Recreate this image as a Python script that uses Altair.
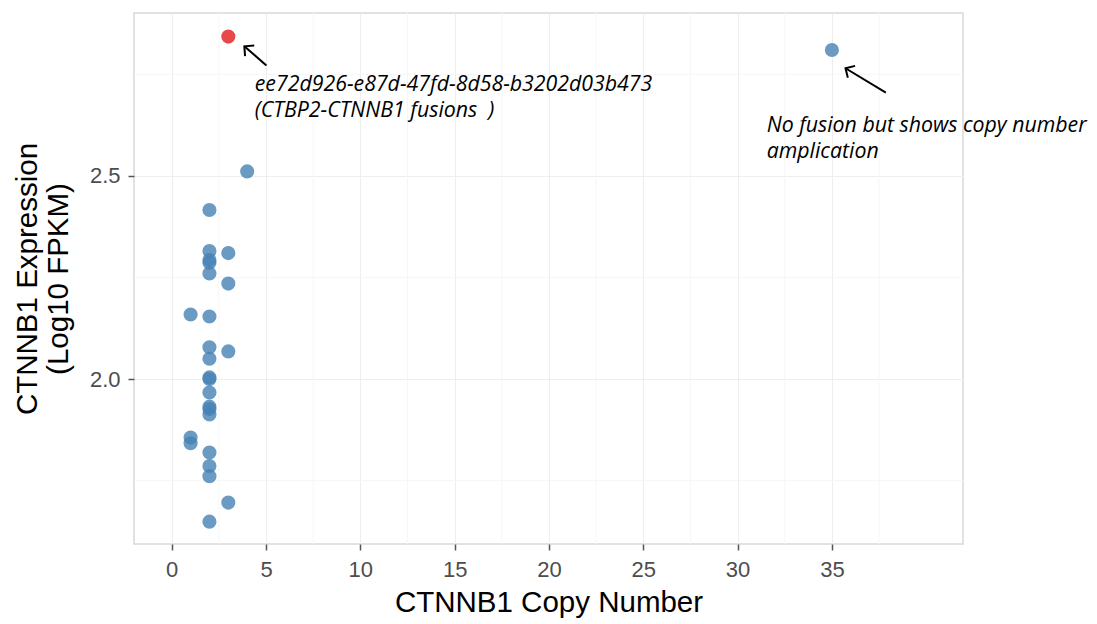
import math
import altair as alt
import pandas as pd

# ---- data ----
copy_number = [2, 2, 2, 2, 2, 2, 2, 2, 2, 2, 2, 2, 2, 2, 2, 2, 2, 2,
               3, 3, 3, 3, 3,
               1, 1, 1,
               4, 35]
expression = [2.416, 2.315, 2.293, 2.286, 2.260, 2.154, 2.078, 2.050, 2.004, 2.000,
              1.967, 1.932, 1.926, 1.913, 1.819, 1.786, 1.761, 1.649,
              2.843, 2.310, 2.235, 2.068, 1.696,
              2.159, 1.856, 1.842,
              2.511, 2.810]
is_fusion = ["no"] * 18 + ["yes", "no", "no", "no", "no"] + ["no"] * 3 + ["no", "no"]

x_ticks = [0, 5, 10, 15, 20, 25, 30, 35]
x_minor = [2.5, 7.5, 12.5, 17.5, 22.5, 27.5, 32.5, 37.5]
y_ticks = [2.0, 2.5]
y_minor = [1.75, 2.25, 2.75]
x_domain = [-2.0, 41.95]
y_domain = [1.594, 2.901]

# annotations (data units)
arrow_tail_x = [5.02, 37.86]
arrow_tail_y = [2.772, 2.705]
arrow_head_x = [3.85, 35.72]
arrow_head_y = [2.819, 2.765]
label_x = [4.40, 31.54]
label_y = [2.710, 2.608]
label_text = ["ee72d926-e87d-47fd-8d58-b3202d03b473\n(CTBP2-CTNNB1 fusions\u00a0\u00a0)",
              "No fusion but shows copy number\namplication"]

W, H = 829, 531
kx = W / (x_domain[1] - x_domain[0])
ky = H / (y_domain[1] - y_domain[0])

pts = pd.DataFrame({"cn": copy_number, "expr": expression, "fusion": is_fusion})
arrows = pd.DataFrame({"x": arrow_tail_x, "y": arrow_tail_y,
                       "x2": arrow_head_x, "y2": arrow_head_y})
arrows["angle"] = [
    (math.degrees(math.atan2(-(y2 - y1) * ky, (x2 - x1) * kx)) + 360) % 360
    for x1, y1, x2, y2 in zip(arrow_tail_x, arrow_tail_y, arrow_head_x, arrow_head_y)
]
labels = pd.DataFrame({"x": label_x, "y": label_y, "t": label_text})
xminor = pd.DataFrame({"v": x_minor})
yminor = pd.DataFrame({"v": y_minor})

xs = alt.Scale(domain=x_domain, nice=False, zero=False)
ys = alt.Scale(domain=y_domain, nice=False, zero=False)

minor_x = alt.Chart(xminor).mark_rule(color="#F6F6F6", strokeWidth=1).encode(
    x=alt.X("v:Q", scale=xs))
minor_y = alt.Chart(yminor).mark_rule(color="#F6F6F6", strokeWidth=1).encode(
    y=alt.Y("v:Q", scale=ys))

points = alt.Chart(pts).mark_circle(size=200, opacity=0.8).encode(
    x=alt.X("cn:Q", scale=xs,
            axis=alt.Axis(values=x_ticks, title="CTNNB1 Copy Number", format="d")),
    y=alt.Y("expr:Q", scale=ys,
            axis=alt.Axis(values=y_ticks, title=["CTNNB1 Expression", "(Log10 FPKM)"],
                          format=".1f")),
    color=alt.Color("fusion:N",
                    scale=alt.Scale(domain=["no", "yes"], range=["#4682B4", "#E41A1C"]),
                    legend=None),
)

shafts = alt.Chart(arrows).mark_rule(color="black", strokeWidth=2).encode(
    x=alt.X("x:Q", scale=xs), y=alt.Y("y:Q", scale=ys), x2="x2:Q", y2="y2:Q")
heads = alt.Chart(arrows).mark_point(
    shape="M -1 -1 L 0 0 L -1 1", filled=False, stroke="black", strokeWidth=2,
    size=196, opacity=1).encode(
    x=alt.X("x2:Q", scale=xs), y=alt.Y("y2:Q", scale=ys), angle=alt.Angle("angle:Q", scale=None))

texts = alt.Chart(labels).mark_text(
    align="left", baseline="alphabetic", font="Open Sans", fontStyle="italic",
    fontWeight=500, fontSize=21.3, lineBreak="\n", lineHeight=26, color="black").encode(
    x=alt.X("x:Q", scale=xs), y=alt.Y("y:Q", scale=ys), text="t:N")

chart = alt.layer(minor_x, minor_y, points, shafts, heads, texts).properties(
    width=W, height=H,
    autosize=alt.AutoSizeParams(type="none"),
    padding={"left": 126, "top": 5, "right": 126, "bottom": 77},
).configure_view(
    stroke="#D9D9D9", strokeWidth=1.5
).configure_axis(
    domain=False, grid=True, gridColor="#EEEEEE", gridWidth=1.2,
    ticks=True, tickColor="#555555", tickSize=6, tickWidth=1.5,
    labelFont="Liberation Sans", labelFontSize=22, labelColor="#4D4D4D",
    titleFont="Liberation Sans", titleFontSize=29.5, titleFontWeight="normal",
    titleColor="black", titleLineHeight=31,
).configure_axisX(
    labelPadding=9, titlePadding=8
).configure_axisY(
    labelPadding=8, titlePadding=16
)

chart.save("out.html", embed_options={"renderer": "svg", "actions": False})
